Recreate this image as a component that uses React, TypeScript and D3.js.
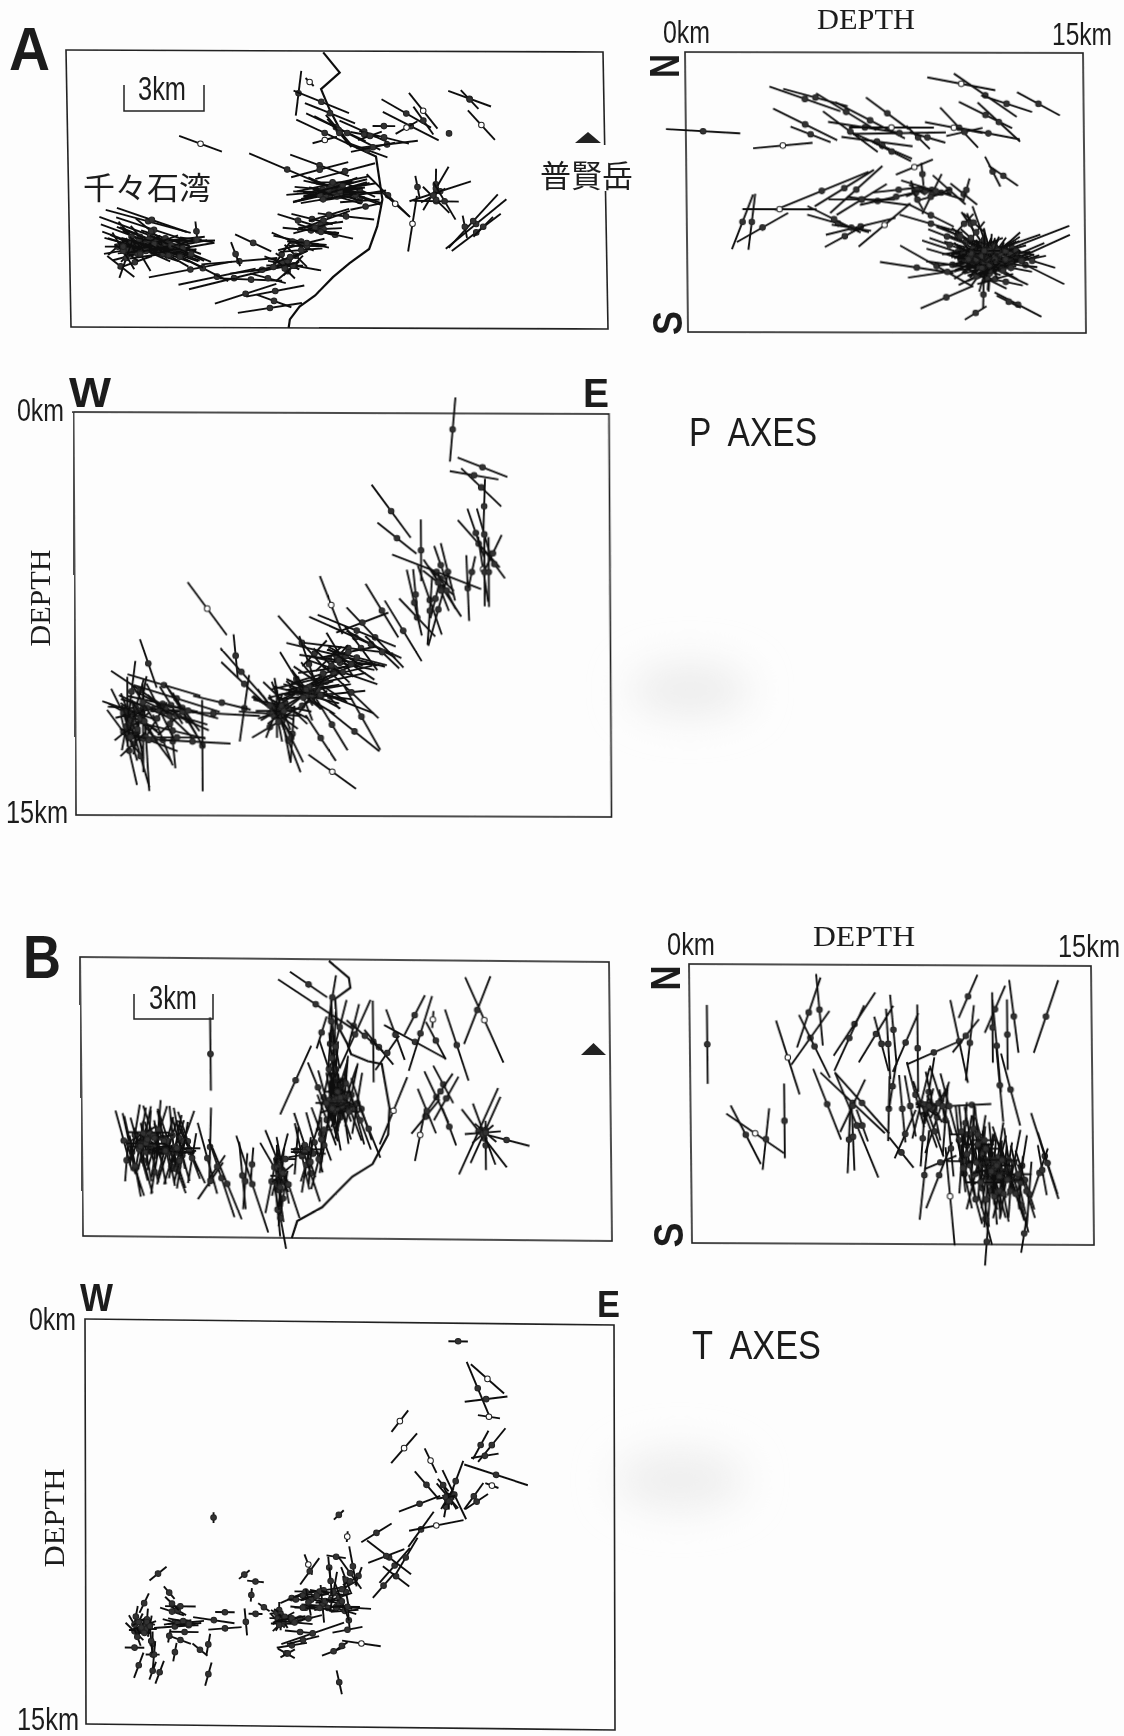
import React, { useEffect, useRef } from "react";
import * as d3 from "d3";

// every event: [x km, y km, axis angle in degrees, axis length km, open circle?]
type Ev = number[];

const coastA = [[9.1,0.05],[9.67,0.76],[9.0,1.35],[9.3,2.1],[9.9,3.27],[10.9,3.73],[11.1,5.25],[10.9,6.2],[10.6,7.0],[9.9,7.5],[9.3,8.0],[8.66,8.65],[8.1,9.05],[7.75,9.5],[7.7,9.8]];
const coastB = [[8.94,0.06],[9.65,0.65],[9.7,1.0],[9.15,1.4],[9.2,2.3],[9.57,3.0],[9.7,3.36],[10.3,3.6],[10.8,3.7],[11.06,5.25],[11.0,6.2],[10.43,7.25],[9.7,7.7],[9.3,8.1],[8.6,8.8],[7.7,9.3],[7.5,9.9]];

const pAxesMap: Ev[] = [
[8.2,1.5,82,1.6],[8.6,1.1,-45,0.4,1],[9.0,1.8,-22,2.1],[9.3,2.2,-22,1.9],[9.5,2.7,-25,2.3],[9.9,2.9,-27,2.6],[9.1,2.9,-25,2.2],[9.6,2.8,-50,1.4],[9.62,2.9,-50,1.3],[9.1,3.15,15,0.9,1],[10.5,2.85,-24,1.9],[11.2,3.05,-14,1.8],[11.3,3.3,7,2.2],[10.6,3.5,-20,1.5],[10.8,3.4,12,1.6],[10.5,2.95,-10,1.0],[10.7,3.0,20,0.9],
[12.0,2.2,-30,2.0],[12.15,2.65,-27,2.2],[12.6,2.1,-52,1.6,1],[12.6,2.45,-55,1.2],[11.2,2.65,0,0.8],[12.0,2.7,30,0.9,1],[13.5,2.9,0,0],[14.25,1.67,-20,1.6],[14.25,1.7,-47,0.9],[14.65,2.6,-48,1.4,1],[4.7,3.3,-20,1.6,1],
[7.75,4.2,-23,2.9],[8.9,4.05,-20,2.2],[8.9,4.2,15,2.1],[9.8,4.25,15,2.2],[9.35,4.7,12,2.6],[9.5,5.0,-1,3.1],[9.3,5.0,14,2.8],[9.6,4.9,10,2.6],[9.4,4.9,-25,2],[9.9,5.0,-18,2.4],[10.3,4.9,-25,1.2],[11.3,5.1,-45,2.1],[11.55,5.4,-42,1.4,1],[9.2,5.0,14,2],[9.5,5.0,-10,2],[9.65,4.9,16,1.9],[9.3,4.85,22,2],[9.85,5.0,-20,2.5],[10.15,5.1,9,2.2],[10.3,5.3,4,1.4],[10.5,5.5,12,1.1],[9.4,4.95,5,1.8],[9.5,4.8,-8,1.5],[9.25,5.1,3,1.9],[9.6,5.1,-14,1.6],
[8.6,5.95,-14,1.5],[9.8,5.85,-6,2],[9.2,5.8,17,1.5],[9.0,6.0,20,2],[8.1,6.0,-17,1.5],[8.8,6.35,-17,1.5],[9.4,6.5,-12,1.3],[9.0,6.3,3,1.3],[8.55,6.35,-5,2],[8.2,6.75,-12,2.0],[8.2,6.85,14,1.7],[6.5,6.8,-25,1.4],[7.9,6.75,-23,1.6],[7.95,7.6,-10,1.9],[8.0,7.25,-45,1.1],[7.75,7.4,26,1.5],[7.6,7.6,0,1.3],[7.7,7.45,-35,1],[7.7,7.8,40,1.1],[7.5,7.2,55,1.1],[8.4,6.9,0,1.3],
[6.0,7.45,5,2.7],[4.26,7.75,11,3.0],[5.2,8.0,12,2.8],[5.8,8.05,14,3.3],[5.87,7.2,-70,0.9],[6.8,7.75,7,2.3],[4.7,7.7,-27,2.0],[6.4,8.1,-2,2.2],[7.0,8.05,-15,1.3],[6.2,8.6,18,2.3],[7.25,8.5,11,2.1],[7.2,8.85,-20,1.3],[7.05,9.1,9,2.3],
[2.8,6.05,-15,3.1],[2.93,6.0,-19,2.6],[2.86,6.55,-20,3.8],[2.86,6.8,-20,3.7],[3.0,6.35,-18,2.8],[2.5,7.0,-24,2.3],[3.5,6.75,1,3.3],[3.25,6.75,6,3.1],[3.4,7.0,11,3],[2.3,7.5,20,1.3],[1.8,7.65,-38,1.2],[1.7,6.95,41,0.9],[3.0,6.75,-22,2.6],[3.2,6.9,-10,2],[2.5,6.6,-50,1],[4.5,6.4,-85,0.7],[2.8,7,0,2.1],[2.85,7.05,-10,2],[3.4,6.65,-18,1.8],[2.2,7.1,45,1.1],[2,7.15,-35,1],[3.7,7,30,1.1],[3.7,7.1,40,0.8],[2.6,6.9,12,1.7],[2.45,6.7,-30,1.3],[3.0,7.1,-5,1.6],[2.7,6.85,30,1.2],[3.2,7.0,0,1.7],
[13.15,4.95,18,2.3],[13.0,5.3,-1,1.6],[13,4.7,88,1.1],[13,4.85,59,1.8],[12.35,4.8,-80,0.8],[13,5.25,-45,1.3],[12.15,6.1,80,2,1],[13.3,5.3,-60,1.5],[12.9,5.1,30,1],
[14.4,6.1,39,2.8],[14.3,6.0,47,2.6],[14.4,6.4,37,2.2],[14,6.2,-80,0.8],[14.65,6.2,45,1]
];
const pAxesMapDense: Ev[] = [
[2.2,6.8,-20,2.2],[2.4,6.95,-15,2.4],[2.6,7.05,-18,2.6],[2.8,6.7,-22,2.4],[3.0,6.95,-15,2.4],[3.2,7.1,-20,2.2],[3.4,6.85,-12,2.2],[3.6,7.15,-18,2.0],[3.8,7.0,-25,2.1],[2.1,7.05,10,1.8],[2.4,7.2,15,1.8],[2.7,7.1,5,2],[3.0,6.85,20,1.8],[3.3,7.2,8,2.4],[3.6,6.9,12,2.2],[4.0,7.0,10,2.3],[2.2,6.6,-50,1.4],[2.5,7.2,-60,1.4],[2.0,7.35,70,1.5],[1.9,7.1,-60,1.5],[2.9,6.4,-40,1.4],[3.5,7.25,-30,1.6],[3.9,7.3,-25,1.8],[4.3,7.2,-22,1.5],[4.5,6.7,-8,1.2],[1.9,6.95,0,1.3],
[8.8,5.0,5,2.2],[9.0,4.9,-5,2],[9.1,5.1,12,2.2],[9.3,4.8,-12,2],[9.4,5.0,0,2.2],[9.6,4.95,8,1.8],[8.9,5.1,15,2],[9.2,4.9,20,1.8],[9.5,5.15,-16,1.8],[9.7,4.75,14,1.8],[9.0,5.25,10,1.6],[9.35,4.65,0,1.5],
[7.5,7.5,-20,1.3],[7.8,7.3,20,1.3],[7.6,7.7,-45,1],[7.9,7.6,45,1],[7.2,7.65,10,1.6],[8.2,7.05,5,1.5],[8.9,6.15,8,1.6],[8.7,6.25,15,1.6],[8.9,6.4,-10,1.2],[8.4,6.8,-5,1.4]
];

const pAxesDepth: Ev[] = [
[10.4,1.1,-10,2.6,1],[11.3,1.5,-33,2.8],[12.1,1.8,-17,2],[13.3,1.8,-27,1.8],[11.3,2.2,-25,2.2],[11.8,2.45,-41,2.1],[11.4,2.85,-10,2.4],[10.3,2.65,-45,2],[10.1,2.65,-10,2.2,1],[10.5,2.8,12,1.4],[4.5,1.65,-18,2.8],[4.9,1.6,-14,2.5],[6.05,2.1,-30,2.6],[6.95,2.4,-26,2.9],[7.6,2.15,-35,1.95],[4.5,2.55,-25,2.65],[4.7,2.9,-20,1.6],[3.65,3.3,5,2.25,1],[0.65,2.8,-3,2.8],[6.2,2.8,-35,2.5],[6.75,2.65,-8,2.8],[7.75,2.65,0,3.2,1],[8.05,2.85,1,3.5],[7.2,3.15,-7,2.7],[7.4,3.3,-22,2.4],[8.75,3,-43,1.2],[9.1,3,-15,1.4],[7.75,3.5,-25,1.6],[11.55,4.2,-62,1.2],[11.95,4.35,-33,1.3],[8.6,4.05,21,1.5,1],[8.9,4.3,-85,0.8],[5.1,4.9,21,3.8],[5.95,4.8,30,2.6],[6.4,4.85,40,2.6],[3.5,5.55,0,2.8,1],[2.1,6,67,2.1],[2.45,6,82,2],[2.85,6.2,28,2.2],[5.7,6.05,-15,2.4],[6.55,6.15,13,2.7],[5.95,6.5,27,1.7],[7.45,6.1,38,2.5,1],[6.2,6.2,-8,1.5],[5.55,5.9,-25,2.2],[7.2,5.25,-7,2.3],[6.6,5.2,0,2.5],[6.6,5.2,30,2.2],[7.9,5.1,12,2.8],[8.0,4.85,6,2],
[9.25,4.85,-16,2.4],[8.6,4.9,-70,0.8],[9.25,5,62,1.6],[9.9,4.85,-40,1.6],[10.45,5,-37,1.25],[10.55,4.85,73,0.85],[9.2,5.75,-25,1.9],[9.2,6.05,-15,2.45],[10.2,6.45,-20,1.7],[8.65,4.95,20,0.8],[8.7,4.85,-30,0.7],[9.0,4.9,0,0.8],[9.6,4.95,20,0.8],
[12.25,6.9,20,4.6],[12.5,7.25,23,4.2],[11.7,6.95,18,3.4],[12.1,7.45,11,2.9],[12.4,7.15,22,2.3],[12.75,7.5,-25,3.2],[9.4,7.55,-28,3.1],[8.65,7.6,-8,2.8],[9.8,7.75,8,3],[9.75,8.65,22,2.1],[10.85,9.2,30,0.95],[12.45,8.9,-26,1.95],[12.1,8.8,-25,1],[11.15,8.55,88,1],[10.2,7.05,-17,2.8],[10.4,7.3,-15,2.85],[10,7.5,-7,2],[10.9,7.4,5,2.9],[11.2,7.05,-14,3.1],[11.3,7.2,24,2.7],[11.6,7.65,-24,2.7],[11.1,6.95,-34,2.7],[11.1,6.7,-55,2.6],[11.2,6.6,-70,2.5],[11.3,7.5,72,2],[11.4,7.4,85,2],[11.35,7.4,52,2.2],[11.3,7.25,31,2.9],[11.3,7.3,0,2.25],[11.2,7.05,3,2.5],[11.7,7.3,9,2.4],[11.2,7.55,0,2.4],[11.4,7.2,-25,2],[11.3,7.25,-40,1.8],[11.6,7.05,25,1.8],[11.05,7.2,40,1.8],[11.6,7.15,40,2.5],[12,7.55,22,2.3],[10.8,7.4,-43,2],[12,7.45,-6,2.4],[13,7.35,-16,1.8],[12,8.1,-11,1.3],[10.7,6.05,-70,0.8],[10.45,6.05,45,1],[10.8,6,-40,1],
[11.0,7.1,10,1.9],[11.1,7.3,-10,1.8],[11.3,7.0,15,1.6],[11.5,7.4,-15,1.7],[10.9,7.3,18,1.7],[11.2,7.6,15,1.6],[11.4,6.9,-10,1.4],[11.6,7.5,10,1.5],[11.0,7.5,-20,1.4],[12.2,7.1,5,1.5],[12.0,7.3,-8,1.5],[12.2,7.4,18,1.4],[11.8,7.1,-20,1.4],[10.7,7.15,6,1.5],[11.2,6.8,90,1.2],[11.4,7.8,85,1.3]
];
const pAxesDepthDense: Ev[] = [
[10.4,7.0,10,1.6],[10.6,7.3,-12,1.6],[10.8,6.9,15,1.6],[11.0,7.6,-18,1.7],[11.2,6.8,20,1.5],[11.4,7.7,12,1.7],[11.6,6.85,-15,1.6],[11.8,7.5,18,1.7],[12.0,7.0,14,1.6],[12.2,7.6,-10,1.6],[12.4,7.0,-12,1.4],[12.6,7.35,16,1.4],[10.9,7.9,25,1.5],[11.3,8.0,-25,1.6],[11.6,8.0,15,1.4],[11.1,7.2,60,1.5],[11.3,7.3,-60,1.6],[11.5,7.2,70,1.5],[11.2,7.4,90,1.5],[11.4,7.0,-75,1.6],[11.6,7.3,60,1.4],[10.9,7.3,-50,1.4],[11.1,7.6,30,1.2],[11.7,7.0,35,1.2],[11.4,7.5,0,1.2],[11.2,7.0,0,1.2],[10.7,7.1,-30,1.3],[12.0,7.3,30,1.3],[11.9,7.7,-30,1.3],[10.5,6.7,-20,1.3],[10.3,6.5,-25,1.5],[9.8,6.5,-20,1.5],[9.9,6.8,-18,1.6],[10.9,6.35,50,1],[10.7,6.55,-40,1],[9.4,4.9,-10,1.2],[9.2,5.1,15,1],[8.7,5.2,-60,0.8]
];

const pAxesSection: Ev[] = [
[13.45,0.6,85,2.4],[14.5,2,-22,1.9],[14.2,2.3,-10,1.75],[14.45,2.75,-45,2],[14.55,3.45,88,2.05],[11.25,3.65,-55,2.4],[11.45,4.65,-40,1.8],[12.3,5.1,90,2.3],[14.25,4.45,-72,1.9],[14.55,4.5,-75,2],[14.35,4.85,-50,2.3],[14.85,5.2,65,1.5],[14.5,5.8,-82,2.45,1],[14.55,5.9,90,2.55],[14.7,5.9,90,2.6],[14.9,5.6,-55,1.3],[12.85,5.9,-22,3.4],[13.95,6.5,-88,2.45],[14.1,5.9,78,1.2],[13,5.65,-72,1.5],[13.25,5.9,-77,2.2],[13.05,6.5,-58,2.5],[12.05,7.05,-78,2.5],[12.6,6.95,-72,2.7],[12.6,7.35,86,2.55],[12.9,7.3,75,2.8],[12.15,7.6,-48,1.9],[11.65,8.1,-60,2.6],[10.9,7.35,-60,2.3],[9.1,7.15,-70,2.3,1],[10.65,8.35,-48,3],[9.95,8.35,-25,3.6],[10,8.1,-23,3],[8.05,8.55,-50,2.6],[4.7,7.3,-55,2.4,1],[2.6,9.35,-72,1.9],[5.7,9.05,-85,1.6],[5.9,9.65,-50,2.3],[6,10.1,-45,2.3],[6,11,82,2.5],[9.1,13.35,-37,2.1,1],[4.5,12.4,90,3.4],
[9.25,9,-14,3.6],[9.7,8.75,-7,3.2],[9.4,9.3,-12,2.5],[8.75,9.85,14,3.7],[8.9,10,13,2.9],[8.75,10.5,6,3.1],[9.05,10.55,-22,3.3],[7.85,9.9,-60,2.3],[8.3,9.35,-72,2.2],[9.8,10.4,-45,2.7],[10.15,11.3,-62,2.8],[9.9,11.85,-40,2.3],[9.1,11.6,-60,2.2],[8.7,12.1,-58,2],[7.55,12.2,-70,2.5],[7.65,12.1,-65,2],[6.9,11.7,32,1.5],[7.35,11.45,-80,3.2],[7.7,11.95,86,2.1],[7.45,10.8,-45,2.2],[7.35,10.9,-12,2.1],[6.9,11.2,-4,2.2],[7.55,11,-28,1.6],[7.9,10.4,35,2.5],[8.05,10.9,32,2.1],[8.4,10.7,-32,1.9],[8.7,10.1,-35,2.3],[8.7,10.15,-52,2.2],[9.6,9.05,-30,1.4],[10.15,8.75,-55,2],[9,9.15,45,1.3],[8.5,8.95,48,1.3],[10.2,7.8,22,2],
[7.1,11.15,-38,2],[7.3,11,32,1.7],[7.15,11.15,-68,1.4],[7.15,11.2,90,1.8],[7.1,11.1,0,1.4],[7.0,11.2,20,1.1],[8.3,10.3,10,2.2],[8.5,10.4,-15,2.3],[8.1,10.5,-40,1.6],[9.2,9.7,25,1.9],[9.3,9.1,50,1.2],
[2.3,10.35,-35,2.5],[3.15,10.15,-17,2.7],[3.6,10.65,-18,3.2],[5.2,10.8,-14,2.1],[2.75,11.05,-3,3.2],[4.9,11.2,-3,3.3],[2.05,11.35,-30,2],[1.7,11.9,-55,2],[1.7,11.2,-65,2],[2,10.4,83,2.3],[1.85,11.15,90,2.6],[2.3,11.15,80,2.7],[2.5,12.1,-87,4],[1.9,12.6,-78,2.6],[2.3,12.8,-75,2.4],[2.4,12.15,90,2.5],[3.45,12.25,-85,2],[3.1,12.2,-70,2],[3.8,11,-55,2.1],[4,11.45,-62,2.3],[4.15,12.25,-3,2.7],[3.6,12.1,0,2],[2.6,12.2,-22,2.2],[2.05,12.35,45,1.3],[2.8,12.15,-55,2.1],[3.15,11.15,-17,3.2],[3.1,10.85,-13,2.5],[3.45,11.85,-14,2.4],[3.35,11.6,45,1.2],[2,11.7,40,1.6],[2.1,11.2,15,1.4],[1.9,11.6,-70,1.5],[2.2,11.9,80,1.7],
[13,6.15,-45,1.3],[12.8,6.9,76,1.5],[12.1,6.75,-85,1.9]
];
const pAxesSectionDense: Ev[] = [
[8.0,10.3,15,2.4],[8.2,10.5,-15,2.4],[8.3,10.2,25,2.2],[8.45,10.45,-30,2.2],[8.6,10.3,10,2.4],[8.2,10.3,-55,1.8],[8.4,10.5,55,1.6],[8.7,10.5,-8,2.3],[8.1,10.6,-70,1.8],[8.8,9.7,18,2.4],[9.2,9.5,8,2.6],[9.35,9.2,-8,2.8],[9.5,9.65,-20,2.6],[9.1,9.4,-45,1.8],[9.4,9.0,-60,1.9],[9.8,9.35,-35,2],[10.0,9.1,-15,2.2],[9.7,8.9,12,2],[7.0,11.0,-30,1.7],[7.2,11.3,-55,1.9],[7.3,10.9,-70,1.9],[7.05,11.3,70,1.7],[7.4,11.1,40,1.5],[6.9,10.9,-55,1.5],[7.2,11.5,-80,1.5],
[1.9,11.1,-20,2],[2.0,11.5,-70,2.2],[2.15,11.0,75,2.2],[2.2,11.8,-80,2.2],[2.3,11.4,-40,1.8],[1.8,11.7,80,1.8],[1.95,12.1,-75,1.8],[2.45,11.5,-60,1.8],[2.55,11.0,-25,2.2],[3.0,11.1,-65,2.2],[3.2,11.0,-30,2.4],[3.35,11.3,-45,2.2],[3.6,11.3,-25,2.5],[3.8,11.15,-60,1.9],[3.4,10.9,-60,1.6],[4.0,11.1,-15,2.2],[2.9,11.4,60,1.4],[2.4,10.8,-60,1.6],
[13.0,6.6,-70,1.6],[12.9,6.3,-40,1.4],[13.2,6.6,-65,1.5],[10.5,8.6,-30,2],[10.9,8.9,-45,1.7]
];

const tAxesMap: Ev[] = [
[4.65,3.4,90,2.6],[8.2,0.9,-34,1.6],[8.45,1.6,-33,3.2],[9.05,1.35,80,1.6],[9.3,2.4,75,2],[7.7,4.3,65,2.7],[8.65,2.6,72,1.2],[9.85,2.65,65,2.7],[9.8,2.35,75,1.6],[10.5,2.9,90,2.9],[11.3,2.65,-70,1.9],[12,2.9,-28,2.5],[12.75,2.85,-62,1.5],[12.2,2.6,72,2.8],[12,1.95,62,1.6],[13.5,3,-72,2.65],[14.5,2.1,-66,3.3,1],[14.25,1.75,68,2.6],[12.65,2.1,85,0.6,1],[13,4.4,-62,1.5],[12.75,4.85,-65,2],[13.1,4.9,60,1.8],[12.9,4.65,55,1.55],[12.35,5.55,50,1.6],[12.15,6.2,78,1.9,1],[12.4,5.35,-68,1.7],[13.2,5.9,-70,1.4],[11.2,5.35,67,2.6,1],[14.45,6.3,-52,2.6],[14.25,6.05,65,3.4],[14.5,6,65,2.6],[14.5,6.55,90,1.75],[15.25,6.35,-14,1.7],[14.45,6.15,-70,2.3],[14.4,6.1,5,1.3],[10.7,3.1,-50,1.6],[11.0,3.3,55,1.5],[10.2,2.7,-40,1.7],
[8.7,4.9,78,2.5],[8.85,5.2,-75,2.6],[9,4.7,82,2.7],[9.05,5.4,-80,2.8],[9.15,4.9,72,2.6],[9.25,5.1,-72,2.7],[9.35,4.8,80,2.8],[9.4,5.3,-82,2.5],[9.5,4.9,70,2.4],[9.6,5.2,-70,2.6],[9.7,4.8,78,2.3],[9.8,5.3,-75,2.6],[9.9,5.1,80,2.2],[10.05,5.3,-72,2.3],[9.2,5.0,90,2.2],[9.3,5.6,75,1.6],[9.1,3.3,88,2.9],[9.05,2.6,-88,2.2],[9.15,3.9,85,2],[8.9,3.9,-72,2.2],[10.0,5.7,-70,2.2],[8.5,4.55,-68,1.9],[9.1,4.3,-85,2],[9.3,4.5,-78,1.8],[9.5,4.4,85,1.7],[9.0,5.0,-88,1.5],[9.2,5.3,70,1.4],[9.4,4.9,90,1.4],[8.8,5.7,-70,1.9],[10.3,6,-68,2.2],
[8,6.6,-72,2.4],[8.2,6.8,72,2.3],[7.9,7,-78,2.4],[8.05,7.3,80,2],[8.2,7.6,-72,2.1],[8.35,6.5,-75,2.2],[8.5,7.1,75,2.2],[7.7,6.8,85,1.7],[8.1,6.75,0,1.2],[8.6,6.2,-70,2],[8.7,6.6,80,2],[7.9,6.95,10,1],
[7.0,7.1,-68,2.2],[7.1,7.3,75,2.3],[7.2,7.5,-80,2.4],[7.15,7.9,85,2.4],[7.05,8.2,-82,2.3],[7.2,8.5,80,2],[6.8,7.9,78,2.3],[7.4,8,-72,2.5],[7.1,9.2,-80,2.2],[7.0,8.9,-85,1.9],[6.9,7.4,-60,2],[6.1,8.0,-72,3.6],[7.3,7.1,0,0.7],
[5.75,7.7,-85,2.4],[5.85,7.9,85,2],[6.1,7.3,85,1.2],[4.6,6.7,88,2.8],[4.5,7.1,-75,2.6],[5.0,7.8,-72,2.9],[5.2,8.0,-68,2.7],[4.6,7.9,55,1.6],[4.85,7.4,55,1],
[1.5,6.5,-75,2.2],[1.8,6.9,-78,2.6],[1.9,7.5,-72,2],[2.1,6.5,80,2.4],[2.2,7.2,-75,2.4],[2.4,6.4,85,2],[2.5,6.9,-78,2.2],[2.7,6.4,72,2.4],[2.8,6.9,-80,2.3],[3,6.7,75,2.2],[3.1,6.5,-72,2.4],[3.3,6.9,72,2.4],[3.5,6.4,-80,2.2],[3.6,7,80,2.4],[3.8,6.5,-72,2.2],[3.9,6.9,-65,2.4],[1.6,7.2,85,1.5],[2.6,7.6,80,1.6],[3.2,7.4,-80,1.4],[3.45,7.4,-72,1.6],[2,6.6,60,1.4],[2.45,6.7,0,1.5],[3.1,6.8,0,1.6],[3.4,6.9,5,1.4],[2.2,6.6,90,1.6],[2.9,6.4,-60,1.2]
];
const tAxesMapDense: Ev[] = [
[1.7,6.6,-78,2.2],[1.9,6.3,80,2.2],[2.05,6.8,-75,2.3],[2.25,6.4,78,2.3],[2.3,6.9,-80,2.1],[2.55,6.3,-72,2.2],[2.65,6.7,82,2.2],[2.75,6.1,85,2.1],[2.95,6.5,-78,2.2],[3.05,6.9,72,2.4],[3.25,6.3,-85,2.1],[3.35,6.7,78,2.3],[3.55,6.8,-75,2.3],[3.65,6.5,70,2.3],[3.85,6.8,-70,2.2],[3.95,7.1,80,1.8],[2.4,6.2,0,1.5],[2.6,6.4,10,1.4],[2.3,6.6,0,1.4],[3.2,6.9,0,1.7],[3.4,6.75,0,1.7],[3.0,6.85,-5,1.5],[2.1,6.7,0,0.8],[2.2,6.25,30,1],[2.35,6.45,-30,1],[1.9,7.4,-80,2.2],[3.4,7.5,-70,1.8],[3.5,7.2,75,1.6],
[8.9,5.0,85,2],[9.0,5.1,-85,1.6],[9.1,5.0,78,1.5],[9.2,4.9,-75,1.5],[9.3,5,88,1.6],[9.4,5.0,-70,1.6],[9.2,4.7,0,1],[9.1,5.1,0,1],[9.35,5.2,0,0.8],[8.8,5.1,0,0.8],[9.0,5.3,20,0.9],[9.3,4.9,-30,1],[9.6,5.4,0,0.8],[8.95,3.0,85,1.7],[9.0,3.5,-85,1.8],[9.15,3.1,-80,1.5],[9.0,2.2,90,1.5],
[7.0,7.4,90,1.6],[7.1,8.2,85,1.4],[7.05,7.7,0,0.6],[7.1,8.1,-85,1.4],[7.2,7.6,40,1],[8.0,6.85,0,1],[8.3,6.9,0,0.9],[8.2,7.2,85,1.6],[8.6,6.4,90,1.6],[8.7,6.05,0,0.6],[14.4,6.15,40,1],[14.5,6.1,-40,1]
];

const tAxesDepth: Ev[] = [
[0.65,2.85,90,2.8],[4.85,1.6,-85,2.55],[4.45,1.7,70,2.65],[3.65,3.3,-72,2.75,1],[4.5,2.6,53,2.4],[4.65,2.9,-63,2.5],[6.15,2.1,55,2.75],[5.95,2.6,64,2.6],[2.05,6.05,-62,2.35],[2.4,6,-33,2.55,1],[2.8,6.2,83,2.2],[3.5,5.55,90,2.65],[5.1,4.95,-68,2.7],[6.05,4.9,-42,3.2],[6.4,4.9,-47,2.95],[6.2,5.7,-67,4],[7.85,6.65,-50,1.4],[5.9,6.2,87,2.4],[6.05,6.1,-88,2.4],[6.05,5,63,2.1],[6.4,5.7,-70,1.2],[6.95,2.45,57,2.4],[7.15,2.8,-75,2],[7.4,2.8,-87,2.5],[7.6,2.3,-85,2.5],[8.05,2.75,65,2.3],[8.5,2.95,90,3.1],[9.1,3.1,23,2.2],[10.4,1.1,65,1.7],[10.05,2.7,-78,3],[10.3,2.5,50,1.55],[10.45,2.75,83,2.7],[11.45,2.85,-85,3.3],[11.4,1.55,65,1.85],[11.3,2.2,90,2.5],[12.1,1.8,-83,2.6],[11.85,2.45,90,2.5],[13.3,1.8,70,2.75],[11.95,4.4,-75,2.65],[11.55,4.25,-85,2.6],[10.5,4.95,3,1.45],[13.2,6.75,-72,3.2],[13.3,7,-72,2.3],[13,7.35,70,1.85],[13.1,7.25,-80,1.8],[9.3,7,22,1.3],[8.7,7.45,83,3.2],[9.25,7.45,67,2.55],[9.65,8.2,-85,3.5,1],
[8.2,5,-80,2.2],[8.4,4.6,-75,2.4],[8.6,4.9,75,2.6],[8.75,5.3,-70,2.5],[8.9,4.5,80,2.5],[9.05,5,-78,2.5],[9.2,5.4,70,2.7],[9.35,4.8,-72,2.6],[9.5,5.5,85,2.5],[9.65,5,-75,2.4],[7.9,5.1,-85,2.4],[7.4,5.1,88,2.3],[7.55,4.3,80,1.6],[8,6,65,1.9],[8.8,4.95,0,0.8],[9.0,5.05,30,1],[8.65,6.15,85,2],[9.7,6.5,-85,2],[9.1,5.9,-70,1.9],
[10.0,6.2,-85,2.4],[10.1,6.9,85,2.4],[10.2,7.4,-78,2.5],[10.3,6.4,80,2.2],[10.4,7.1,-80,2.6],[10.5,6.6,88,2.4],[10.6,7.4,75,2.6],[10.7,6.4,-80,2.2],[10.8,7.1,85,2.5],[10.85,7.9,-80,2.8],[10.95,6.6,-75,2.5],[11.05,7.3,80,2.7],[11.15,8.0,85,2.8],[11.25,6.9,-85,2.7],[11.35,7.6,-75,2.8],[11.45,6.8,80,2.5],[11.55,7.6,88,2.8],[11.65,6.9,-72,2.5],[11.75,7.6,80,2.7],[11.85,6.9,-82,2.3],[11.95,7.6,-72,2.6],[12.05,7.0,78,2.4],[12.2,7.6,-78,2.5],[12.35,7.1,80,2.2],[12.45,7.6,-72,2.2],[10.9,7.0,0,1.5],[11.2,7.2,15,1.4],[11.5,7.3,-15,1.4],[11.0,7.5,30,1.3],[11.4,8.05,-80,1.6],[12.6,8.1,85,2.3],[12.3,8.5,-75,2],[11.0,9.8,85,1.7],[10.95,9.0,-75,1.9],[12.4,9.5,80,1.4],[10.2,6.95,0,1.3],[10.3,6.0,0,1.3]
];
const tAxesDepthDense: Ev[] = [
[10.1,5.9,-85,1.9],[10.25,5.6,85,1.5],[10.4,6,-80,2],[10.55,5.8,88,1.8],[10.7,6.0,-85,2],[10.85,6.2,80,1.8],[10.3,6.7,85,1.7],[10.15,7.2,-85,1.7],[10.65,7.0,-75,2],[10.9,6.7,85,2],[11,7.1,-85,2.2],[11.1,6.9,75,2],[11.2,7.4,-85,2.2],[11.3,7.1,85,2],[11.4,7.3,-70,2],[11.5,7.0,75,2],[11.6,7.3,-85,2],[11.7,7.3,85,1.8],[11.8,7.2,-70,2],[11.0,8.3,85,2],[11.15,7.7,-75,2],[11.3,8.2,-85,2],[11.5,8.0,75,2],[11.65,8.1,-80,2],[11.9,8,85,1.9],[12.1,8.1,-72,2],[12.3,7.7,85,1.9],[12.5,8.0,-72,2],[10.6,8.3,-75,1.8],[10.95,6.2,0,0.9],[11.3,6.9,0,1.2],[11.4,7.1,0,1.2],[11.2,7.3,0,1.2],[11.5,7.5,0,1.2],[11.1,7.7,0,1.2],[10.8,7.7,0,1.2],[11.8,7.6,0,1.2],[11.6,6.9,0,1.2],[12.2,7.4,0,1],[11.0,6.5,0,1.2],[10.7,6.35,0,1.2],
[8.7,4.95,20,0.6],[8.8,5.1,-30,0.9],[8.9,5.0,75,1.3],[9.1,5.1,-60,1.1],[9.25,4.9,60,1.2],[9.4,5.0,-80,1.2]
];

const tAxesSection: Ev[] = [
[13.4,0.67,0,0.7],[14.1,2.4,-68,2.1],[14.45,2.05,-42,1.6,1],[14.4,2.8,8,1.55],[14.5,3.45,-8,0.8,1],[11.3,3.65,53,1,1],[11.45,4.65,50,1.45,1],[14.2,4.5,62,1.2],[14.6,4.5,52,1.6],[14.35,4.9,10,1],[14.75,5.6,-18,2.4],[13.3,5.85,70,1.6],[12.4,5.1,-65,1,1],[12.25,6,-50,1.3],[13.25,6.35,-65,2],[13,6.4,-50,1.2],[12,6.7,22,1.6],[14.6,6,-20,0.5,1],[13.95,6.4,55,1.2],[14.05,6.6,35,1],[12.95,6.8,80,0.8],[12.05,7.65,55,1.6],[12.6,7.5,12,2,1],[11.1,9,50,1.7],[11.5,8.7,60,1.7],[10.9,8.7,-38,2],[11.15,9.4,-38,1.2],[10.8,8.65,22,1.4],[10.7,9.75,50,1.2],[10.45,7.8,33,1.3],[9.1,7.15,45,0.5],[4.6,7.3,90,0.4],[9.4,7.95,85,0.4,1],[13.05,6.5,0,0.4],[13.05,6.6,40,0.5],[13.0,6.55,-45,0.5],
[8,9,-70,0.8,1],[8.05,9.25,55,1.2],[8.75,9.1,-85,0.8],[9,8.7,-8,0.7],[9.5,9.3,-55,1.4],[9.6,9.05,-80,1.5],[9.8,9.4,70,0.7],[9.35,10,-80,1.2],[8.55,9.95,10,1.7],[7.4,10.25,25,0.9],[9,10.55,-3,2.5],[9,10.6,-17,1.5],[8.5,10.45,-85,1.4],[9.45,11.05,-85,0.7],[9.4,11.4,12,1.1],[7.7,11.5,-5,1.1],[8.15,11.55,20,2.4],[7.2,12.3,-30,0.7],[7.25,12.3,30,0.6],[8.9,12.2,22,0.9],[9.9,11.9,-8,1.4,1],[9.2,12,35,0.5],[9.1,13.35,-78,0.9],[7.9,10,0,0.8],[8.2,10.2,15,1],[8.4,10,-10,0.7],[9.1,10.2,20,1],[9.3,10.7,5,1],[8.8,10.3,-5,0.9],[7.9,10.6,0,0.8],[7.7,11.0,5,0.9],[8.0,11.0,15,1],[7.4,12.0,10,1.1],[7.8,11.8,15,1.2],
[7,10.9,-30,0.8],[7.1,11,30,0.9],[6.9,11.1,-45,0.7],[7,11.2,45,0.8],[7.1,11.2,0,0.9],[6.95,10.7,90,0.6],[7.0,11.1,90,0.7],[6.85,10.8,10,0.5],[6.4,10.6,-35,0.5],
[5.7,9.4,40,0.5],[6.1,9.65,-5,0.6],[5.95,10.15,85,0.5],[6.1,10.85,0,0.5],[5.75,11.15,-85,1],[5,10.8,0,0.7],[4.6,11.1,-8,1.5],[5,11.4,5,1.2],[4.4,12,80,0.8],[4.1,12.2,-40,0.7],[4.4,13.1,75,0.9],[2.6,9.4,40,0.8],[3,10.1,-50,0.6],[2.1,10.5,65,0.8],[3.1,10.8,-18,0.9],[3.4,10.6,0,1.1],[3.2,11.2,-15,0.9],[3.2,11.35,5,1.5],[3.6,11.2,6,1.3],[3.55,11.55,0,1],[3.4,11.85,-20,0.8],[1.8,11,80,0.8],[1.9,11.2,65,0.7],[1.75,11.55,-45,0.9],[1.9,11.5,0,0.7],[2.15,11.3,20,0.8],[1.75,12.15,0,0.7],[2.2,11.1,85,0.8],[2.4,12,90,0.9],[2.4,12.4,0,0.5],[1.9,12.8,70,1],[2.4,13,70,0.7],[2.65,13.05,70,0.9],[3.2,12.3,80,0.7],[3.0,11.7,80,0.5],[2.2,11.45,0,0.7],[3.7,11.3,0,0.7]
];
const tAxesSectionDense: Ev[] = [
[6.9,11.0,0,0.6],[7.05,11.05,20,0.7],[7.0,10.85,-40,0.6],[7.1,11.1,-60,0.6],[6.95,11.25,60,0.5],[7.15,10.95,-20,0.5],[7.4,11,10,1],[7.5,11.15,-5,1.3],[7.55,10.3,0,0.6],[7.8,10.15,10,0.7],[8.1,10.3,-5,0.7],[8.3,10.15,10,0.9],[8.6,10.35,10,0.7],[8.9,10.05,-10,0.9],[9.2,9.9,30,1.1],[9.1,10.45,-20,1],[9.4,10.55,0,0.9],[8.7,10.6,10,1],[8.4,10.6,-10,1.1],[7.8,10.6,-5,0.9],[8.0,10.4,-80,1],[8.9,10.0,80,1.5],[9.2,10.35,-70,1.5],[9.35,9.55,-70,1.0],[9.5,9.6,30,0.6],[8.8,9.6,-85,1],
[13,6.5,60,0.9],[13.1,6.5,-60,0.9],[12.95,6.45,10,0.7],[13.05,6.6,90,0.6],[12.85,6.0,-50,0.6],
[1.75,11.3,-60,0.8],[2.0,11.4,70,0.6],[2.2,11.2,-20,0.6],[1.85,11.75,-70,0.7],[2.3,11.35,80,0.8],[2.1,11.6,0,0.5],[1.9,11.2,30,0.5],[3.3,11.2,10,1],[3.5,11.15,-10,1.1],[3.7,11.25,5,0.9],[3.3,10.75,-30,0.7],[3.1,10.5,-45,0.7],[2.45,12.4,85,1],[2.35,11.9,-85,0.9]
];

const FONT_NARROW = "'Liberation Sans Narrow','Liberation Sans',sans-serif";
const FONT_SERIF = "'Liberation Serif',serif";
const FONT_BOLD = "'Liberation Sans',sans-serif";
const FONT_CJK = "'Noto Sans CJK JP',sans-serif";

const panels = [
  { left: 66, top: 50, w: 537, h: 277, kx: 2 / 537, ky: 5 / 277, xMax: 19, yMax: 9.8, data: pAxesMap.concat(pAxesMapDense), coast: coastA },
  { left: 685, top: 52, w: 398, h: 280, kx: 1 / 398, ky: 3 / 280, xMax: 15, yMax: 9.9, data: pAxesDepth.concat(pAxesDepthDense) },
  { left: 73.5, top: 412, w: 535.5, h: 403, kx: 2 / 535, ky: 2.5 / 403, xMax: 19, yMax: 15, data: pAxesSection.concat(pAxesSectionDense) },
  { left: 80, top: 957, w: 529, h: 279, kx: 5 / 529, ky: 3 / 279, xMax: 19, yMax: 9.9, data: tAxesMap.concat(tAxesMapDense), coast: coastB },
  { left: 689, top: 964, w: 402, h: 279, kx: 2 / 402, ky: 3 / 279, xMax: 15, yMax: 9.9, data: tAxesDepth.concat(tAxesDepthDense) },
  { left: 85, top: 1319, w: 529, h: 405, kx: 6 / 529, ky: 1 / 405, xMax: 19, yMax: 15, data: tAxesSection.concat(tAxesSectionDense) },
];

// text, x, baseline, font, size, weight, width
const labels: [string, number, number, string, number, number, number][] = [
  ["A", 9, 70, FONT_BOLD, 62, 700, 41],
  ["3km", 138, 100, FONT_NARROW, 33, 400, 48],
  ["千々石湾", 83, 199, FONT_CJK, 31, 400, 128],
  ["普賢岳", 540, 187, FONT_CJK, 31, 400, 93],
  ["DEPTH", 817, 29, FONT_SERIF, 29, 400, 98],
  ["0km", 663, 43, FONT_NARROW, 31, 400, 47],
  ["15km", 1052, 45, FONT_NARROW, 31, 400, 60],
  ["W", 69, 407, FONT_BOLD, 42, 700, 42],
  ["E", 583, 407, FONT_BOLD, 40, 700, 26],
  ["0km", 17, 421, FONT_NARROW, 31, 400, 47],
  ["15km", 6, 823, FONT_NARROW, 31, 400, 62],
  ["P  AXES", 689, 446, FONT_NARROW, 40, 400, 128],
  ["B", 23, 978, FONT_BOLD, 62, 700, 38],
  ["3km", 149, 1009, FONT_NARROW, 33, 400, 48],
  ["DEPTH", 813, 946, FONT_SERIF, 29, 400, 102],
  ["0km", 667, 955, FONT_NARROW, 31, 400, 48],
  ["15km", 1058, 957, FONT_NARROW, 31, 400, 62],
  ["W", 80, 1311, FONT_BOLD, 38, 700, 33],
  ["E", 597, 1317, FONT_BOLD, 36, 700, 23],
  ["0km", 29, 1330, FONT_NARROW, 31, 400, 47],
  ["15km", 17, 1730, FONT_NARROW, 31, 400, 62],
  ["T  AXES", 692, 1359, FONT_NARROW, 40, 400, 129],
];

// rotated labels: text, centre x, centre y, font, size, weight, width
const sideLabels: [string, number, number, string, number, number, number][] = [
  ["N", 664, 66, FONT_BOLD, 42, 700, 24],
  ["S", 667, 323, FONT_BOLD, 42, 700, 24],
  ["DEPTH", 40, 598, FONT_SERIF, 29, 400, 97],
  ["N", 665, 978, FONT_BOLD, 42, 700, 25],
  ["S", 668, 1235, FONT_BOLD, 42, 700, 25],
  ["DEPTH", 54, 1518, FONT_SERIF, 29, 400, 99],
];

export default function App() {
  const ref = useRef<SVGSVGElement>(null);

  useEffect(() => {
    const svg = d3.select(ref.current);
    svg.selectAll("*").remove();

    const defs = svg.append("defs");
    defs.append("filter").attr("id", "scan").append("feGaussianBlur").attr("stdDeviation", 0.45);
    defs.append("filter").attr("id", "smudge")
      .attr("x", "-100%").attr("y", "-100%").attr("width", "300%").attr("height", "300%")
      .append("feGaussianBlur").attr("stdDeviation", 20);

    svg.append("rect").attr("width", 1124).attr("height", 1736).attr("fill", "#fdfdfd");
    svg.append("ellipse").attr("cx", 690).attr("cy", 690).attr("rx", 60).attr("ry", 26).attr("fill", "#ececec").attr("filter", "url(#smudge)");
    svg.append("ellipse").attr("cx", 680).attr("cy", 1480).attr("rx", 65).attr("ry", 30).attr("fill", "#eeeeee").attr("filter", "url(#smudge)");

    const root = svg.append("g").attr("filter", "url(#scan)");

    panels.forEach((p) => {
      const g = root.append("g").attr("transform", `matrix(1,${p.kx},${p.ky},1,${p.left},${p.top})`);
      const x = d3.scaleLinear().domain([0, p.xMax]).range([0, p.w]);
      const y = d3.scaleLinear().domain([0, p.yMax]).range([0, p.h]);

      g.append("rect").attr("width", p.w).attr("height", p.h).attr("fill", "none").attr("stroke", "#222").attr("stroke-width", 1.6);

      if (p.coast) {
        const line = d3.line().x((d) => x(d[0])).y((d) => y(d[1]));
        g.append("path").attr("d", line(p.coast as [number, number][])).attr("fill", "none").attr("stroke", "#111").attr("stroke-width", 2.2);
      }

      const ev = g.selectAll("g.ev").data(p.data).join("g").attr("class", "ev");
      ev.append("line")
        .attr("x1", (d) => x(d[0] - (Math.cos((d[2] * Math.PI) / 180) * d[3]) / 2))
        .attr("x2", (d) => x(d[0] + (Math.cos((d[2] * Math.PI) / 180) * d[3]) / 2))
        .attr("y1", (d) => y(d[1] + (Math.sin((d[2] * Math.PI) / 180) * d[3]) / 2))
        .attr("y2", (d) => y(d[1] - (Math.sin((d[2] * Math.PI) / 180) * d[3]) / 2))
        .attr("stroke", "#111")
        .attr("stroke-width", 1.9);
      ev.append("circle")
        .attr("cx", (d) => x(d[0]))
        .attr("cy", (d) => y(d[1]))
        .attr("r", 2.8)
        .attr("fill", (d) => (d[4] ? "#fff" : "#333"))
        .attr("stroke", "#222")
        .attr("stroke-width", 1);
    });

    // scale bars, and the gap the mountain name leaves in frame A
    const ink = root.append("g").attr("fill", "none").attr("stroke", "#222").attr("stroke-width", 1.5);
    ink.append("path").attr("d", "M124,85V111H204V85");
    ink.append("path").attr("d", "M134,994V1019H213V994");
    root.append("rect").attr("x", 538).attr("y", 145).attr("width", 98).attr("height", 46).attr("fill", "#fdfdfd");
    root.append("path").attr("d", "M575,143L588,132L601,143Z").attr("fill", "#222");
    root.append("path").attr("d", "M581,1055L593.5,1043L606,1055Z").attr("fill", "#222");

    const txt = root.append("g").attr("fill", "#1c1c1c");
    labels.forEach(([t, lx, ly, font, size, weight, width]) => {
      txt.append("text")
        .attr("x", lx).attr("y", ly)
        .attr("font-family", font).attr("font-size", size).attr("font-weight", weight)
        .attr("textLength", width).attr("lengthAdjust", "spacingAndGlyphs")
        .style("white-space", "pre")
        .text(t);
    });
    sideLabels.forEach(([t, cx, cy, font, size, weight, width]) => {
      txt.append("text")
        .attr("transform", `translate(${cx},${cy}) rotate(-90)`)
        .attr("text-anchor", "middle").attr("dy", "0.35em")
        .attr("font-family", font).attr("font-size", size).attr("font-weight", weight)
        .attr("textLength", width).attr("lengthAdjust", "spacingAndGlyphs")
        .text(t);
    });
  }, []);

  return <svg ref={ref} width={1124} height={1736} style={{ position: "absolute", left: 0, top: 0 }} />;
}
